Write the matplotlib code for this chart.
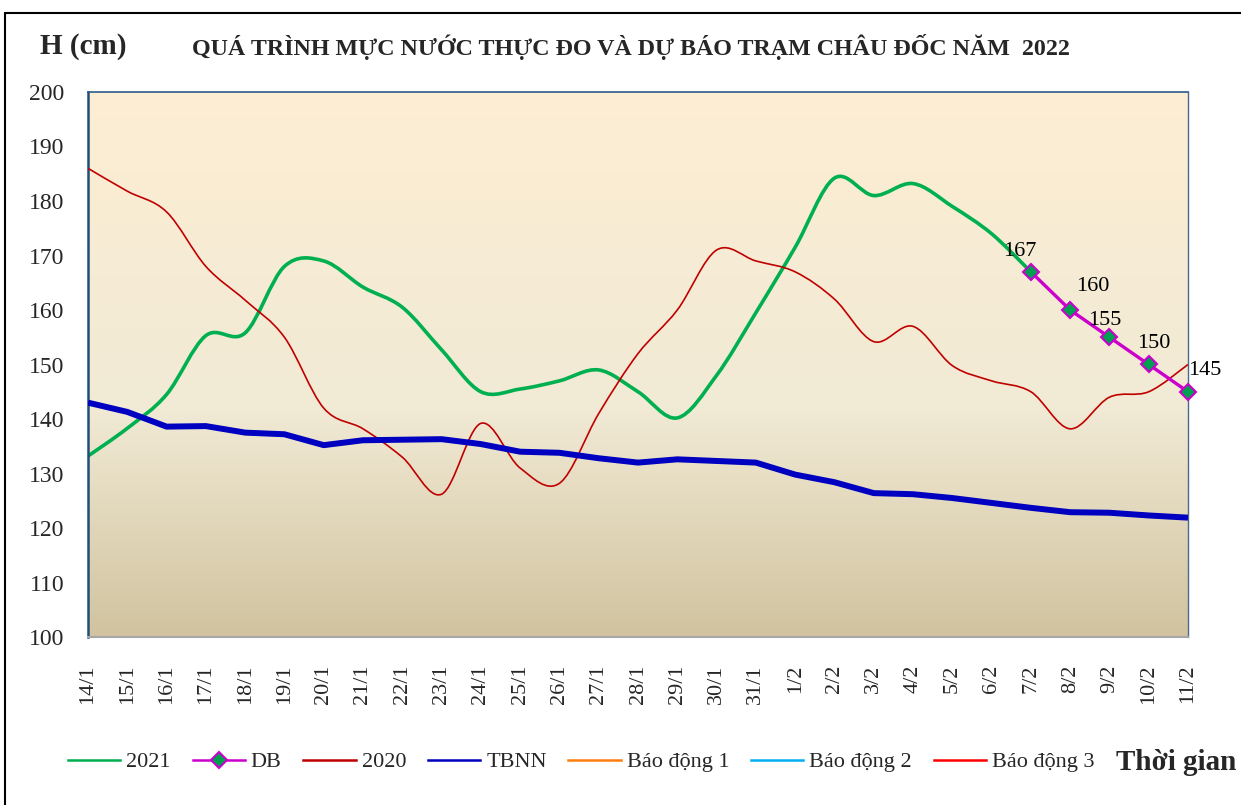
import numpy as np
import matplotlib
matplotlib.use('Agg')
import matplotlib.pyplot as plt
from matplotlib.path import Path
from matplotlib.patches import PathPatch, Rectangle
from matplotlib.lines import Line2D
from matplotlib.colors import LinearSegmentedColormap

plt.rcParams['font.family'] = ['Liberation Serif', 'DejaVu Serif']

# dữ liệu
dates = ['14/1', '15/1', '16/1', '17/1', '18/1', '19/1', '20/1', '21/1', '22/1',
         '23/1', '24/1', '25/1', '26/1', '27/1', '28/1', '29/1', '30/1', '31/1',
         '1/2', '2/2', '3/2', '4/2', '5/2', '6/2', '7/2', '8/2', '9/2', '10/2', '11/2']

h2021 = [133.2, 138.3, 144.5, 155.3, 155.8, 168.0, 169.0, 164.2, 160.5, 152.7,
         145.0, 145.5, 147.0, 149.0, 145.0, 140.2, 148.0, 159.5, 171.5, 184.2,
         181.0, 183.2, 179.0, 174.0, 167.0]
db_dates = ['7/2', '8/2', '9/2', '10/2', '11/2']
db = [167, 160, 155, 150, 145]
h2020 = [186.0, 181.8, 178.0, 168.0, 161.8, 155.0, 142.0, 138.2, 133.0, 126.2,
         139.2, 131.0, 128.2, 141.0, 152.0, 160.0, 171.0, 169.0, 167.0, 162.0,
         154.2, 157.0, 149.8, 147.0, 145.0, 138.2, 144.0, 145.0, 150.0]
tbnn = [143.0, 141.3, 138.6, 138.7, 137.5, 137.2, 135.2, 136.1, 136.2, 136.3,
        135.4, 134.0, 133.8, 132.8, 132.0, 132.6, 132.3, 132.0, 129.8, 128.4,
        126.4, 126.2, 125.5, 124.6, 123.7, 122.9, 122.8, 122.3, 121.9]
# mức báo động (ngoài phạm vi trục)
bd1, bd2, bd3 = 350, 400, 450

colors = {
    '2021': '#00B050',
    'db': '#CC00CC',
    'db_marker': '#00A050',
    '2020': '#C00000',
    'tbnn': '#0000C0',
    'bd1': '#FF7F0E',
    'bd2': '#00B0F0',
    'bd3': '#FF0000',
}


def smooth_path(x, y):
    """Đường cong Bezier kiểu Excel (smoothed line)"""
    pts = np.column_stack([x, y]).astype(float)
    n = len(pts)
    verts = [pts[0]]
    codes = [Path.MOVETO]
    for i in range(n - 1):
        p0 = pts[i - 1] if i > 0 else pts[i]
        p1 = pts[i]
        p2 = pts[i + 1]
        p3 = pts[i + 2] if i + 2 < n else pts[i + 1]
        verts += [p1 + (p2 - p0) / 6, p2 - (p3 - p1) / 6, p2]
        codes += [Path.CURVE4] * 3
    return Path(verts, codes)


fig = plt.figure(figsize=(12.41, 8.05), dpi=100)
ax = fig.add_axes([88 / 1241, 1 - 637 / 805, 1100 / 1241, 545 / 805])

# nền gradient
cmap = LinearSegmentedColormap.from_list(
    'bg', [(0.0, '#D1C39F'), (0.42, '#F1EAD5'), (1.0, '#FDEED3')])
grad = np.linspace(0, 1, 256).reshape(-1, 1)
ax.imshow(grad, cmap=cmap, extent=(0, 1, 0, 1), origin='lower',
          transform=ax.transAxes, aspect='auto', zorder=0)

xi = np.arange(len(dates))
x2021 = xi[:len(h2021)]
xdb = [dates.index(d) for d in db_dates]

ax.add_patch(PathPatch(smooth_path(x2021, h2021), fill=False,
                       edgecolor=colors['2021'], lw=2.6, zorder=2,
                       capstyle='round', joinstyle='round'))
ax.add_patch(PathPatch(smooth_path(xi, h2020), fill=False,
                       edgecolor=colors['2020'], lw=1.2, zorder=3))
ax.plot(xi, tbnn, color=colors['tbnn'], lw=4.3, zorder=4,
        solid_joinstyle='round', solid_capstyle='butt')
ax.plot(xi, [bd1] * len(xi), color=colors['bd1'], lw=2)
ax.plot(xi, [bd2] * len(xi), color=colors['bd2'], lw=2)
ax.plot(xi, [bd3] * len(xi), color=colors['bd3'], lw=2)
ax.plot(xdb, db, color=colors['db'], lw=2.4, marker='D', markersize=8,
        markerfacecolor=colors['db_marker'], markeredgecolor=colors['db'],
        markeredgewidth=1.5, zorder=5, clip_on=False)

# nhãn dự báo
offsets = [(-8, 15), (16, 17), (-3, 12), (4, 15), (12, 15)]
for x, v, off in zip(xdb, db, offsets):
    ax.annotate(str(v), (x, v), xytext=off, textcoords='offset points',
                ha='center', va='center', fontsize=16, zorder=6)

ax.set_xlim(0, len(dates) - 1)
ax.set_ylim(100, 200)
ax.set_yticks(np.arange(100, 201, 10))
ax.set_xticks(xi)
ax.set_xticklabels(dates, rotation=90, fontsize=16, color='#262626')
ax.tick_params(axis='y', labelsize=17, labelcolor='#262626', length=0, pad=17)
ax.tick_params(axis='x', length=0, pad=20)

ax.spines['left'].set_color('#1F4E79')
ax.spines['left'].set_linewidth(1.8)
ax.spines['top'].set_color('#2E5A8A')
ax.spines['top'].set_linewidth(1.2)
ax.spines['right'].set_color('#4A6A8A')
ax.spines['right'].set_linewidth(1.0)
ax.spines['bottom'].set_color('#A6A6A6')
ax.spines['bottom'].set_linewidth(1.5)

# khung ngoài
fig.add_artist(Rectangle((5 / 1241, -0.1), 1.2, 1.1 - 13 / 805, fill=False,
                         edgecolor='black', lw=1.5, transform=fig.transFigure))

# tiêu đề
fig.text(40 / 1241, 1 - 47 / 805, 'H (cm)', fontsize=21, fontweight='bold',
         ha='left', va='center', color='#262626')
fig.text(631 / 1241, 1 - 47 / 805,
         'QUÁ TRÌNH MỰC NƯỚC THỰC ĐO VÀ DỰ BÁO TRẠM CHÂU ĐỐC NĂM  2022',
         fontsize=17.3, fontweight='bold', ha='center', va='center', color='#262626')

# chú thích
handles = [
    Line2D([], [], color=colors['2021'], lw=1.8),
    Line2D([], [], color=colors['db'], lw=1.8, marker='D', markersize=8,
           markerfacecolor=colors['db_marker'], markeredgecolor=colors['db'],
           markeredgewidth=1.5),
    Line2D([], [], color=colors['2020'], lw=1.8),
    Line2D([], [], color=colors['tbnn'], lw=1.8),
    Line2D([], [], color=colors['bd1'], lw=1.8),
    Line2D([], [], color=colors['bd2'], lw=1.8),
    Line2D([], [], color=colors['bd3'], lw=1.8),
]
labels = ['2021', 'DB', '2020', 'TBNN', 'Báo động 1', 'Báo động 2', 'Báo động 3']
leg = fig.legend(handles, labels, loc='center left', ncol=7, frameon=False,
                 bbox_to_anchor=(68 / 1241, 1 - 762 / 805), fontsize=16,
                 handlelength=2.35, handletextpad=0.27, columnspacing=0.98,
                 borderpad=0, borderaxespad=0)
for t in leg.get_texts():
    t.set_color('#262626')

fig.text(1116 / 1241, 1 - 762 / 805, 'Thời gian', fontsize=21,
         fontweight='bold', ha='left', va='center', color='#262626')

fig.savefig('out.png', dpi=100)
